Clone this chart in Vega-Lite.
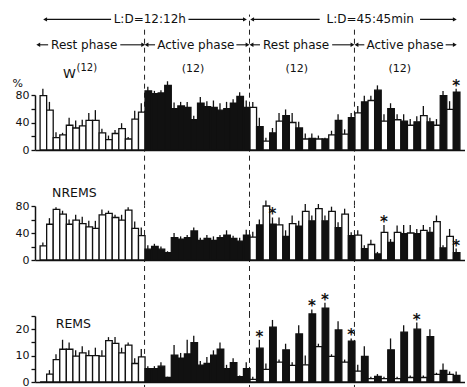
{
"$schema":"https://vega.github.io/schema/vega-lite/v6.json",
"background":"white",
"padding":{"left":12,"top":13,"right":0,"bottom":0},
"config":{"view":{"stroke":null},"axis":{"grid":false,"title":null,"domainColor":"#111","tickColor":"#111","labelColor":"#111","labelFont":"DejaVu Sans","labelFontSize":11,"domainWidth":1.5,"tickWidth":1.3,"tickSize":4,"labelPadding":2,"labelOverlap":false,"labelFlush":false}},
"datasets":{
"W":[
{"bin":0,"phase":"L","pct":79,"upper":89},{"bin":1,"phase":"L","pct":58,"upper":70},{"bin":2,"phase":"L","pct":18,"upper":26},{"bin":3,"phase":"L","pct":22,"upper":25},{"bin":4,"phase":"L","pct":36,"upper":47},{"bin":5,"phase":"L","pct":32,"upper":43},{"bin":6,"phase":"L","pct":35,"upper":44},{"bin":7,"phase":"L","pct":43,"upper":54},{"bin":8,"phase":"L","pct":43,"upper":58},{"bin":9,"phase":"L","pct":25,"upper":31},{"bin":10,"phase":"L","pct":15,"upper":21},{"bin":11,"phase":"L","pct":24,"upper":29},{"bin":12,"phase":"L","pct":31,"upper":39},{"bin":13,"phase":"L","pct":16,"upper":19},{"bin":14,"phase":"L","pct":45,"upper":57},{"bin":15,"phase":"L","pct":55,"upper":68},
{"bin":16,"phase":"D","pct":86,"upper":92},{"bin":17,"phase":"D","pct":82,"upper":86},{"bin":18,"phase":"D","pct":83,"upper":87},{"bin":19,"phase":"D","pct":94,"upper":100},{"bin":20,"phase":"D","pct":60,"upper":69},{"bin":21,"phase":"D","pct":64,"upper":70},{"bin":22,"phase":"D","pct":62,"upper":70},{"bin":23,"phase":"D","pct":44,"upper":50},{"bin":24,"phase":"D","pct":68,"upper":77},{"bin":25,"phase":"D","pct":63,"upper":71},{"bin":26,"phase":"D","pct":62,"upper":72},{"bin":27,"phase":"D","pct":58,"upper":68},{"bin":28,"phase":"D","pct":60,"upper":70},{"bin":29,"phase":"D","pct":68,"upper":74},{"bin":30,"phase":"D","pct":78,"upper":84},{"bin":31,"phase":"D","pct":62,"upper":72},
{"bin":32,"phase":"L","pct":62,"upper":70},{"bin":33,"phase":"D","pct":34,"upper":47},{"bin":34,"phase":"L","pct":13,"upper":18},{"bin":35,"phase":"D","pct":25,"upper":32},{"bin":36,"phase":"L","pct":42,"upper":54},{"bin":37,"phase":"D","pct":50,"upper":59},{"bin":38,"phase":"L","pct":40,"upper":54},{"bin":39,"phase":"D","pct":32,"upper":41},{"bin":40,"phase":"L","pct":16,"upper":24},{"bin":41,"phase":"D","pct":17,"upper":24},{"bin":42,"phase":"L","pct":16,"upper":21},{"bin":43,"phase":"D","pct":16,"upper":18},{"bin":44,"phase":"L","pct":22,"upper":28},{"bin":45,"phase":"D","pct":43,"upper":52},{"bin":46,"phase":"L","pct":23,"upper":30},{"bin":47,"phase":"D","pct":47,"upper":54},
{"bin":48,"phase":"L","pct":54,"upper":64},{"bin":49,"phase":"D","pct":70,"upper":79},{"bin":50,"phase":"L","pct":72,"upper":79},{"bin":51,"phase":"D","pct":87,"upper":94},{"bin":52,"phase":"L","pct":42,"upper":52},{"bin":53,"phase":"D","pct":60,"upper":68},{"bin":54,"phase":"L","pct":44,"upper":52},{"bin":55,"phase":"D","pct":42,"upper":52},{"bin":56,"phase":"L","pct":36,"upper":45},{"bin":57,"phase":"D","pct":41,"upper":49},{"bin":58,"phase":"L","pct":50,"upper":64},{"bin":59,"phase":"D","pct":41,"upper":47},{"bin":60,"phase":"L","pct":36,"upper":45},{"bin":61,"phase":"D","pct":79,"upper":86},{"bin":62,"phase":"L","pct":59,"upper":71},{"bin":63,"phase":"D","pct":84,"upper":89,"sig":1}
],
"NREMS":[
{"bin":0,"phase":"L","pct":21,"upper":26},{"bin":1,"phase":"L","pct":53,"upper":62},{"bin":2,"phase":"L","pct":75,"upper":78},{"bin":3,"phase":"L","pct":68,"upper":73},{"bin":4,"phase":"L","pct":53,"upper":60},{"bin":5,"phase":"L","pct":59,"upper":67},{"bin":6,"phase":"L","pct":54,"upper":64},{"bin":7,"phase":"L","pct":49,"upper":58},{"bin":8,"phase":"L","pct":47,"upper":58},{"bin":9,"phase":"L","pct":67,"upper":75},{"bin":10,"phase":"L","pct":69,"upper":73},{"bin":11,"phase":"L","pct":63,"upper":67},{"bin":12,"phase":"L","pct":59,"upper":67},{"bin":13,"phase":"L","pct":74,"upper":78},{"bin":14,"phase":"L","pct":47,"upper":57},{"bin":15,"phase":"L","pct":36,"upper":48},
{"bin":16,"phase":"D","pct":16,"upper":22},{"bin":17,"phase":"D","pct":20,"upper":24},{"bin":18,"phase":"D","pct":16,"upper":20},{"bin":19,"phase":"D","pct":11,"upper":13},{"bin":20,"phase":"D","pct":33,"upper":40},{"bin":21,"phase":"D","pct":31,"upper":35},{"bin":22,"phase":"D","pct":33,"upper":37},{"bin":23,"phase":"D","pct":43,"upper":48},{"bin":24,"phase":"D","pct":29,"upper":33},{"bin":25,"phase":"D","pct":32,"upper":37},{"bin":26,"phase":"D","pct":29,"upper":35},{"bin":27,"phase":"D","pct":33,"upper":37},{"bin":28,"phase":"D","pct":37,"upper":44},{"bin":29,"phase":"D","pct":32,"upper":36},{"bin":30,"phase":"D","pct":28,"upper":33},{"bin":31,"phase":"D","pct":37,"upper":45},
{"bin":32,"phase":"L","pct":34,"upper":42},{"bin":33,"phase":"D","pct":52,"upper":60},{"bin":34,"phase":"L","pct":80,"upper":88},{"bin":35,"phase":"D","pct":53,"upper":63,"sig":1},{"bin":36,"phase":"L","pct":52,"upper":63},{"bin":37,"phase":"D","pct":35,"upper":44},{"bin":38,"phase":"L","pct":54,"upper":66},{"bin":39,"phase":"D","pct":50,"upper":58},{"bin":40,"phase":"L","pct":72,"upper":83},{"bin":41,"phase":"D","pct":58,"upper":66},{"bin":42,"phase":"L","pct":76,"upper":83},{"bin":43,"phase":"D","pct":58,"upper":66},{"bin":44,"phase":"L","pct":72,"upper":79},{"bin":45,"phase":"D","pct":48,"upper":56},{"bin":46,"phase":"L","pct":68,"upper":76},{"bin":47,"phase":"D","pct":36,"upper":41},
{"bin":48,"phase":"L","pct":37,"upper":44},{"bin":49,"phase":"D","pct":17,"upper":22},{"bin":50,"phase":"L","pct":23,"upper":30},{"bin":51,"phase":"D","pct":9,"upper":12},{"bin":52,"phase":"L","pct":41,"upper":52,"sig":1},{"bin":53,"phase":"D","pct":26,"upper":31},{"bin":54,"phase":"L","pct":41,"upper":51},{"bin":55,"phase":"D","pct":39,"upper":52},{"bin":56,"phase":"L","pct":40,"upper":52},{"bin":57,"phase":"D","pct":39,"upper":46},{"bin":58,"phase":"L","pct":44,"upper":52},{"bin":59,"phase":"D","pct":41,"upper":49},{"bin":60,"phase":"L","pct":57,"upper":66},{"bin":61,"phase":"D","pct":18,"upper":22},{"bin":62,"phase":"L","pct":35,"upper":46},{"bin":63,"phase":"D","pct":11,"upper":17,"sig":1}
],
"REMS":[
{"bin":0,"phase":"L","pct":0,"upper":0},{"bin":1,"phase":"L","pct":3,"upper":4.5},{"bin":2,"phase":"L","pct":8.5,"upper":10.5},{"bin":3,"phase":"L","pct":12.4,"upper":16},{"bin":4,"phase":"L","pct":12.4,"upper":15},{"bin":5,"phase":"L","pct":9.8,"upper":12},{"bin":6,"phase":"L","pct":11,"upper":13.5},{"bin":7,"phase":"L","pct":10,"upper":12},{"bin":8,"phase":"L","pct":10,"upper":13},{"bin":9,"phase":"L","pct":9.8,"upper":12},{"bin":10,"phase":"L","pct":15.7,"upper":17},{"bin":11,"phase":"L","pct":14.6,"upper":17},{"bin":12,"phase":"L","pct":11,"upper":13},{"bin":13,"phase":"L","pct":14,"upper":15},{"bin":14,"phase":"L","pct":7,"upper":9},{"bin":15,"phase":"L","pct":9.5,"upper":12.5},
{"bin":16,"phase":"D","pct":5.1,"upper":6},{"bin":17,"phase":"D","pct":5.1,"upper":6},{"bin":18,"phase":"D","pct":6,"upper":7.5},{"bin":19,"phase":"D","pct":1.7,"upper":2},{"bin":20,"phase":"D","pct":10.2,"upper":14},{"bin":21,"phase":"D","pct":9,"upper":11},{"bin":22,"phase":"D","pct":10.6,"upper":16},{"bin":23,"phase":"D","pct":14.9,"upper":17.5},{"bin":24,"phase":"D","pct":6.4,"upper":8},{"bin":25,"phase":"D","pct":7,"upper":9.5},{"bin":26,"phase":"D","pct":10.2,"upper":12},{"bin":27,"phase":"D","pct":12.4,"upper":15},{"bin":28,"phase":"D","pct":5.1,"upper":6.5},{"bin":29,"phase":"D","pct":7.3,"upper":9},{"bin":30,"phase":"D","pct":2,"upper":2.5},{"bin":31,"phase":"D","pct":5.1,"upper":7.5},
{"bin":32,"phase":"L","pct":1,"upper":2},{"bin":33,"phase":"D","pct":12.8,"upper":16,"sig":1},{"bin":34,"phase":"L","pct":4.8,"upper":7},{"bin":35,"phase":"D","pct":20.8,"upper":23.5},{"bin":36,"phase":"L","pct":7.5,"upper":8.5},{"bin":37,"phase":"D","pct":12.2,"upper":14.5},{"bin":38,"phase":"L","pct":6.3,"upper":7.5},{"bin":39,"phase":"D","pct":18.2,"upper":21.5},{"bin":40,"phase":"L","pct":6.5,"upper":10},{"bin":41,"phase":"D","pct":25.8,"upper":27.5,"sig":1},{"bin":42,"phase":"L","pct":13.4,"upper":14.5},{"bin":43,"phase":"D","pct":28,"upper":30,"sig":1},{"bin":44,"phase":"L","pct":9.7,"upper":10.5},{"bin":45,"phase":"D","pct":19.7,"upper":23},{"bin":46,"phase":"L","pct":7.5,"upper":8.5},{"bin":47,"phase":"D","pct":15.5,"upper":16.5,"sig":1},
{"bin":48,"phase":"L","pct":4.1,"upper":6.5},{"bin":49,"phase":"D","pct":9.7,"upper":13.5},{"bin":50,"phase":"L","pct":1.3,"upper":2},{"bin":51,"phase":"D","pct":2.1,"upper":3},{"bin":52,"phase":"L","pct":1.3,"upper":2},{"bin":53,"phase":"D","pct":12.2,"upper":16.5},{"bin":54,"phase":"L","pct":1.3,"upper":2},{"bin":55,"phase":"D","pct":18.9,"upper":21.5},{"bin":56,"phase":"L","pct":1.7,"upper":2.5},{"bin":57,"phase":"D","pct":20,"upper":22.5,"sig":1},{"bin":58,"phase":"L","pct":1.7,"upper":2.5},{"bin":59,"phase":"D","pct":17.2,"upper":20},{"bin":60,"phase":"L","pct":2.9,"upper":3.5},{"bin":61,"phase":"D","pct":4.4,"upper":7},{"bin":62,"phase":"L","pct":2.9,"upper":4},{"bin":63,"phase":"D","pct":2.5,"upper":4}
]
},
"vconcat":[
{
"width":430,"height":55,
"layer":[
{"data":{"values":[{}]},"layer":[
{"mark":{"type":"rule","strokeDash":[5,4],"strokeWidth":1,"color":"#222"},"encoding":{"x":{"datum":16},"y":{"datum":-81,"axis":{"values":[0,20,40,60,80],"labelExpr":"datum.value % 40 === 0 ? datum.label : ''"}},"y2":{"datum":178}}},
{"mark":{"type":"rule","strokeDash":[5,4],"strokeWidth":1,"color":"#222"},"encoding":{"x":{"datum":32},"y":{"datum":-81,"axis":{"values":[0,20,40,60,80],"labelExpr":"datum.value % 40 === 0 ? datum.label : ''"}},"y2":{"datum":197}}},
{"mark":{"type":"rule","strokeDash":[5,4],"strokeWidth":1,"color":"#222"},"encoding":{"x":{"datum":48},"y":{"datum":-81,"axis":{"values":[0,20,40,60,80],"labelExpr":"datum.value % 40 === 0 ? datum.label : ''"}},"y2":{"datum":178}}},
{"mark":{"type":"rule","strokeWidth":1.1,"color":"#111"},"encoding":{"x":{"datum":0.84},"x2":{"datum":10.9},"y":{"datum":190,"axis":{"values":[0,20,40,60,80],"labelExpr":"datum.value % 40 === 0 ? datum.label : ''"}}}},
{"mark":{"type":"rule","strokeWidth":1.1,"color":"#111"},"encoding":{"x":{"datum":22.7},"x2":{"datum":31.3},"y":{"datum":190,"axis":{"values":[0,20,40,60,80],"labelExpr":"datum.value % 40 === 0 ? datum.label : ''"}}}},
{"mark":{"type":"rule","strokeWidth":1.1,"color":"#111"},"encoding":{"x":{"datum":32.4},"x2":{"datum":42.7},"y":{"datum":190,"axis":{"values":[0,20,40,60,80],"labelExpr":"datum.value % 40 === 0 ? datum.label : ''"}}}},
{"mark":{"type":"rule","strokeWidth":1.1,"color":"#111"},"encoding":{"x":{"datum":58.0},"x2":{"datum":63.3},"y":{"datum":190,"axis":{"values":[0,20,40,60,80],"labelExpr":"datum.value % 40 === 0 ? datum.label : ''"}}}},
{"mark":{"type":"rule","strokeWidth":1.1,"color":"#111"},"encoding":{"x":{"datum":-0.2},"x2":{"datum":1.3},"y":{"datum":153,"axis":{"values":[0,20,40,60,80],"labelExpr":"datum.value % 40 === 0 ? datum.label : ''"}}}},
{"mark":{"type":"rule","strokeWidth":1.1,"color":"#111"},"encoding":{"x":{"datum":12.3},"x2":{"datum":15.8},"y":{"datum":153,"axis":{"values":[0,20,40,60,80],"labelExpr":"datum.value % 40 === 0 ? datum.label : ''"}}}},
{"mark":{"type":"rule","strokeWidth":1.1,"color":"#111"},"encoding":{"x":{"datum":16.3},"x2":{"datum":17.6},"y":{"datum":153,"axis":{"values":[0,20,40,60,80],"labelExpr":"datum.value % 40 === 0 ? datum.label : ''"}}}},
{"mark":{"type":"rule","strokeWidth":1.1,"color":"#111"},"encoding":{"x":{"datum":30.0},"x2":{"datum":31.7},"y":{"datum":153,"axis":{"values":[0,20,40,60,80],"labelExpr":"datum.value % 40 === 0 ? datum.label : ''"}}}},
{"mark":{"type":"rule","strokeWidth":1.1,"color":"#111"},"encoding":{"x":{"datum":32.3},"x2":{"datum":33.6},"y":{"datum":153,"axis":{"values":[0,20,40,60,80],"labelExpr":"datum.value % 40 === 0 ? datum.label : ''"}}}},
{"mark":{"type":"rule","strokeWidth":1.1,"color":"#111"},"encoding":{"x":{"datum":44.6},"x2":{"datum":47.7},"y":{"datum":153,"axis":{"values":[0,20,40,60,80],"labelExpr":"datum.value % 40 === 0 ? datum.label : ''"}}}},
{"mark":{"type":"rule","strokeWidth":1.1,"color":"#111"},"encoding":{"x":{"datum":48.3},"x2":{"datum":49.5},"y":{"datum":153,"axis":{"values":[0,20,40,60,80],"labelExpr":"datum.value % 40 === 0 ? datum.label : ''"}}}},
{"mark":{"type":"rule","strokeWidth":1.1,"color":"#111"},"encoding":{"x":{"datum":61.9},"x2":{"datum":63.3},"y":{"datum":153,"axis":{"values":[0,20,40,60,80],"labelExpr":"datum.value % 40 === 0 ? datum.label : ''"}}}},
{"mark":{"type":"point","shape":"triangle-left","filled":true,"size":20,"color":"#111","opacity":1},"encoding":{"x":{"datum":0.84},"y":{"datum":190,"axis":{"values":[0,20,40,60,80],"labelExpr":"datum.value % 40 === 0 ? datum.label : ''"}}}},
{"mark":{"type":"point","shape":"triangle-right","filled":true,"size":20,"color":"#111","opacity":1},"encoding":{"x":{"datum":31.3},"y":{"datum":190,"axis":{"values":[0,20,40,60,80],"labelExpr":"datum.value % 40 === 0 ? datum.label : ''"}}}},
{"mark":{"type":"point","shape":"triangle-left","filled":true,"size":20,"color":"#111","opacity":1},"encoding":{"x":{"datum":32.4},"y":{"datum":190,"axis":{"values":[0,20,40,60,80],"labelExpr":"datum.value % 40 === 0 ? datum.label : ''"}}}},
{"mark":{"type":"point","shape":"triangle-right","filled":true,"size":20,"color":"#111","opacity":1},"encoding":{"x":{"datum":63.3},"y":{"datum":190,"axis":{"values":[0,20,40,60,80],"labelExpr":"datum.value % 40 === 0 ? datum.label : ''"}}}},
{"mark":{"type":"point","shape":"triangle-left","filled":true,"size":20,"color":"#111","opacity":1},"encoding":{"x":{"datum":-0.2},"y":{"datum":153,"axis":{"values":[0,20,40,60,80],"labelExpr":"datum.value % 40 === 0 ? datum.label : ''"}}}},
{"mark":{"type":"point","shape":"triangle-right","filled":true,"size":20,"color":"#111","opacity":1},"encoding":{"x":{"datum":15.8},"y":{"datum":153,"axis":{"values":[0,20,40,60,80],"labelExpr":"datum.value % 40 === 0 ? datum.label : ''"}}}},
{"mark":{"type":"point","shape":"triangle-left","filled":true,"size":20,"color":"#111","opacity":1},"encoding":{"x":{"datum":16.3},"y":{"datum":153,"axis":{"values":[0,20,40,60,80],"labelExpr":"datum.value % 40 === 0 ? datum.label : ''"}}}},
{"mark":{"type":"point","shape":"triangle-right","filled":true,"size":20,"color":"#111","opacity":1},"encoding":{"x":{"datum":31.7},"y":{"datum":153,"axis":{"values":[0,20,40,60,80],"labelExpr":"datum.value % 40 === 0 ? datum.label : ''"}}}},
{"mark":{"type":"point","shape":"triangle-left","filled":true,"size":20,"color":"#111","opacity":1},"encoding":{"x":{"datum":32.3},"y":{"datum":153,"axis":{"values":[0,20,40,60,80],"labelExpr":"datum.value % 40 === 0 ? datum.label : ''"}}}},
{"mark":{"type":"point","shape":"triangle-right","filled":true,"size":20,"color":"#111","opacity":1},"encoding":{"x":{"datum":47.7},"y":{"datum":153,"axis":{"values":[0,20,40,60,80],"labelExpr":"datum.value % 40 === 0 ? datum.label : ''"}}}},
{"mark":{"type":"point","shape":"triangle-left","filled":true,"size":20,"color":"#111","opacity":1},"encoding":{"x":{"datum":48.3},"y":{"datum":153,"axis":{"values":[0,20,40,60,80],"labelExpr":"datum.value % 40 === 0 ? datum.label : ''"}}}},
{"mark":{"type":"point","shape":"triangle-right","filled":true,"size":20,"color":"#111","opacity":1},"encoding":{"x":{"datum":63.3},"y":{"datum":153,"axis":{"values":[0,20,40,60,80],"labelExpr":"datum.value % 40 === 0 ? datum.label : ''"}}}},
{"mark":{"type":"text","text":"L:D=12:12h","font":"DejaVu Sans","fontSize":12,"color":"#111","baseline":"middle","align":"center"},"encoding":{"x":{"datum":16.8},"y":{"datum":190,"axis":{"values":[0,20,40,60,80],"labelExpr":"datum.value % 40 === 0 ? datum.label : ''"}}}},
{"mark":{"type":"text","text":"L:D=45:45min","font":"DejaVu Sans","fontSize":12,"color":"#111","baseline":"middle","align":"center"},"encoding":{"x":{"datum":50.4},"y":{"datum":190,"axis":{"values":[0,20,40,60,80],"labelExpr":"datum.value % 40 === 0 ? datum.label : ''"}}}},
{"mark":{"type":"text","text":"Rest phase","font":"DejaVu Sans","fontSize":12,"color":"#111","baseline":"middle","align":"center"},"encoding":{"x":{"datum":6.8},"y":{"datum":153,"axis":{"values":[0,20,40,60,80],"labelExpr":"datum.value % 40 === 0 ? datum.label : ''"}}}},
{"mark":{"type":"text","text":"Active phase","font":"DejaVu Sans","fontSize":12,"color":"#111","baseline":"middle","align":"center"},"encoding":{"x":{"datum":23.8},"y":{"datum":153,"axis":{"values":[0,20,40,60,80],"labelExpr":"datum.value % 40 === 0 ? datum.label : ''"}}}},
{"mark":{"type":"text","text":"Rest phase","font":"DejaVu Sans","fontSize":12,"color":"#111","baseline":"middle","align":"center"},"encoding":{"x":{"datum":39.1},"y":{"datum":153,"axis":{"values":[0,20,40,60,80],"labelExpr":"datum.value % 40 === 0 ? datum.label : ''"}}}},
{"mark":{"type":"text","text":"Active phase","font":"DejaVu Sans","fontSize":12,"color":"#111","baseline":"middle","align":"center"},"encoding":{"x":{"datum":55.7},"y":{"datum":153,"axis":{"values":[0,20,40,60,80],"labelExpr":"datum.value % 40 === 0 ? datum.label : ''"}}}},
{"mark":{"type":"text","text":"(12)","font":"DejaVu Sans","fontSize":11,"color":"#111","baseline":"middle","align":"center"},"encoding":{"x":{"datum":23.4},"y":{"datum":118,"axis":{"values":[0,20,40,60,80],"labelExpr":"datum.value % 40 === 0 ? datum.label : ''"}}}},
{"mark":{"type":"text","text":"(12)","font":"DejaVu Sans","fontSize":11,"color":"#111","baseline":"middle","align":"center"},"encoding":{"x":{"datum":39.2},"y":{"datum":118,"axis":{"values":[0,20,40,60,80],"labelExpr":"datum.value % 40 === 0 ? datum.label : ''"}}}},
{"mark":{"type":"text","text":"(12)","font":"DejaVu Sans","fontSize":11,"color":"#111","baseline":"middle","align":"center"},"encoding":{"x":{"datum":54.9},"y":{"datum":118,"axis":{"values":[0,20,40,60,80],"labelExpr":"datum.value % 40 === 0 ? datum.label : ''"}}}},
{"mark":{"type":"text","text":"W","font":"DejaVu Sans","fontSize":13,"color":"#111","baseline":"middle","align":"center"},"encoding":{"x":{"datum":4.55},"y":{"datum":111,"axis":{"values":[0,20,40,60,80],"labelExpr":"datum.value % 40 === 0 ? datum.label : ''"}}}},
{"mark":{"type":"text","text":"(12)","font":"DejaVu Sans","fontSize":10,"color":"#111","baseline":"middle","align":"center"},"encoding":{"x":{"datum":7.2},"y":{"datum":120,"axis":{"values":[0,20,40,60,80],"labelExpr":"datum.value % 40 === 0 ? datum.label : ''"}}}},
{"mark":{"type":"text","text":"%","font":"DejaVu Sans","fontSize":11,"color":"#111","baseline":"middle","align":"center"},"encoding":{"x":{"datum":-3.35},"y":{"datum":96,"axis":{"values":[0,20,40,60,80],"labelExpr":"datum.value % 40 === 0 ? datum.label : ''"}}}}
]},
{"data":{"name":"W"},"layer":[
{"mark":{"type":"bar","binSpacing":0,"stroke":"#111","strokeWidth":1.3},"encoding":{
"x":{"field":"bin","type":"quantitative","bin":{"step":1,"extent":[0,64]},"scale":{"domain":[-0.7,64.85],"nice":false,"zero":false},"axis":{"labels":false,"ticks":false,"title":null,"grid":false}},
"y":{"field":"pct","type":"quantitative","scale":{"domain":[0,80],"nice":false},"axis":{"values":[0,20,40,60,80],"labelExpr":"datum.value % 40 === 0 ? datum.label : ''"}},
"fill":{"field":"phase","type":"nominal","scale":{"domain":["L","D"],"range":["#ffffff","#111111"]},"legend":null}}},
{"mark":{"type":"rule","strokeWidth":1.3,"color":"#111"},"encoding":{"x":{"field":"bin","type":"quantitative","bin":{"step":1,"extent":[0,64]}},"y":{"field":"pct","type":"quantitative","axis":{"values":[0,20,40,60,80],"labelExpr":"datum.value % 40 === 0 ? datum.label : ''"}},"y2":{"field":"upper"}}},
{"transform":[{"filter":"datum.sig === 1"}],"mark":{"type":"text","text":"*","font":"DejaVu Sans","fontSize":15,"fontWeight":"bold","color":"#111","baseline":"alphabetic","align":"center","dy":2},"encoding":{"x":{"field":"bin","type":"quantitative","bin":{"step":1,"extent":[0,64]}},"y":{"field":"upper","type":"quantitative","axis":{"values":[0,20,40,60,80],"labelExpr":"datum.value % 40 === 0 ? datum.label : ''"}}}}
]}
]
},
{
"width":430,"height":54,
"layer":[
{"data":{"values":[{}]},"layer":[
{"mark":{"type":"rule","strokeDash":[5,4],"strokeWidth":1,"color":"#222"},"encoding":{"x":{"datum":16},"y":{"datum":-83,"axis":{"values":[0,20,40,60,80],"labelExpr":"datum.value % 40 === 0 ? datum.label : ''"}},"y2":{"datum":80}}},
{"mark":{"type":"rule","strokeDash":[5,4],"strokeWidth":1,"color":"#222"},"encoding":{"x":{"datum":32},"y":{"datum":-83,"axis":{"values":[0,20,40,60,80],"labelExpr":"datum.value % 40 === 0 ? datum.label : ''"}},"y2":{"datum":80}}},
{"mark":{"type":"rule","strokeDash":[5,4],"strokeWidth":1,"color":"#222"},"encoding":{"x":{"datum":48},"y":{"datum":-83,"axis":{"values":[0,20,40,60,80],"labelExpr":"datum.value % 40 === 0 ? datum.label : ''"}},"y2":{"datum":80}}},
{"mark":{"type":"text","text":"NREMS","font":"DejaVu Sans","fontSize":12.5,"color":"#111","baseline":"middle","align":"center"},"encoding":{"x":{"datum":5.3},"y":{"datum":99,"axis":{"values":[0,20,40,60,80],"labelExpr":"datum.value % 40 === 0 ? datum.label : ''"}}}}
]},
{"data":{"name":"NREMS"},"layer":[
{"mark":{"type":"bar","binSpacing":0,"stroke":"#111","strokeWidth":1.3},"encoding":{
"x":{"field":"bin","type":"quantitative","bin":{"step":1,"extent":[0,64]},"scale":{"domain":[-0.7,64.85],"nice":false,"zero":false},"axis":{"labels":false,"ticks":false,"title":null,"grid":false}},
"y":{"field":"pct","type":"quantitative","scale":{"domain":[0,80],"nice":false},"axis":{"values":[0,20,40,60,80],"labelExpr":"datum.value % 40 === 0 ? datum.label : ''"}},
"fill":{"field":"phase","type":"nominal","scale":{"domain":["L","D"],"range":["#ffffff","#111111"]},"legend":null}}},
{"mark":{"type":"rule","strokeWidth":1.3,"color":"#111"},"encoding":{"x":{"field":"bin","type":"quantitative","bin":{"step":1,"extent":[0,64]}},"y":{"field":"pct","type":"quantitative","axis":{"values":[0,20,40,60,80],"labelExpr":"datum.value % 40 === 0 ? datum.label : ''"}},"y2":{"field":"upper"}}},
{"transform":[{"filter":"datum.sig === 1"}],"mark":{"type":"text","text":"*","font":"DejaVu Sans","fontSize":15,"fontWeight":"bold","color":"#111","baseline":"alphabetic","align":"center","dy":2},"encoding":{"x":{"field":"bin","type":"quantitative","bin":{"step":1,"extent":[0,64]}},"y":{"field":"upper","type":"quantitative","axis":{"values":[0,20,40,60,80],"labelExpr":"datum.value % 40 === 0 ? datum.label : ''"}}}}
]}
]
},
{
"width":430,"height":66,
"layer":[
{"data":{"values":[{}]},"layer":[
{"mark":{"type":"rule","strokeDash":[5,4],"strokeWidth":1,"color":"#222"},"encoding":{"x":{"datum":16},"y":{"datum":-3,"axis":{"values":[0,5,10,15,20,25],"labelExpr":"datum.value % 10 === 0 ? datum.label : ''"}},"y2":{"datum":25}}},
{"mark":{"type":"rule","strokeDash":[5,4],"strokeWidth":1,"color":"#222"},"encoding":{"x":{"datum":32},"y":{"datum":-3,"axis":{"values":[0,5,10,15,20,25],"labelExpr":"datum.value % 10 === 0 ? datum.label : ''"}},"y2":{"datum":25}}},
{"mark":{"type":"rule","strokeDash":[5,4],"strokeWidth":1,"color":"#222"},"encoding":{"x":{"datum":48},"y":{"datum":-3,"axis":{"values":[0,5,10,15,20,25],"labelExpr":"datum.value % 10 === 0 ? datum.label : ''"}},"y2":{"datum":25}}},
{"mark":{"type":"text","text":"REMS","font":"DejaVu Sans","fontSize":12.5,"color":"#111","baseline":"middle","align":"center"},"encoding":{"x":{"datum":5.15},"y":{"datum":22,"axis":{"values":[0,5,10,15,20,25],"labelExpr":"datum.value % 10 === 0 ? datum.label : ''"}}}}
]},
{"data":{"name":"REMS"},"layer":[
{"mark":{"type":"bar","binSpacing":0,"stroke":"#111","strokeWidth":1.3},"encoding":{
"x":{"field":"bin","type":"quantitative","bin":{"step":1,"extent":[0,64]},"scale":{"domain":[-0.7,64.85],"nice":false,"zero":false},"axis":{"labels":false,"ticks":false,"title":null,"grid":false}},
"y":{"field":"pct","type":"quantitative","scale":{"domain":[0,25],"nice":false},"axis":{"values":[0,5,10,15,20,25],"labelExpr":"datum.value % 10 === 0 ? datum.label : ''"}},
"fill":{"field":"phase","type":"nominal","scale":{"domain":["L","D"],"range":["#ffffff","#111111"]},"legend":null}}},
{"mark":{"type":"rule","strokeWidth":1.3,"color":"#111"},"encoding":{"x":{"field":"bin","type":"quantitative","bin":{"step":1,"extent":[0,64]}},"y":{"field":"pct","type":"quantitative","axis":{"values":[0,5,10,15,20,25],"labelExpr":"datum.value % 10 === 0 ? datum.label : ''"}},"y2":{"field":"upper"}}},
{"transform":[{"filter":"datum.sig === 1"}],"mark":{"type":"text","text":"*","font":"DejaVu Sans","fontSize":15,"fontWeight":"bold","color":"#111","baseline":"alphabetic","align":"center","dy":2},"encoding":{"x":{"field":"bin","type":"quantitative","bin":{"step":1,"extent":[0,64]}},"y":{"field":"upper","type":"quantitative","axis":{"values":[0,5,10,15,20,25],"labelExpr":"datum.value % 10 === 0 ? datum.label : ''"}}}}
]}
]
}
],
"spacing":56,
"bounds":"flush"
}
